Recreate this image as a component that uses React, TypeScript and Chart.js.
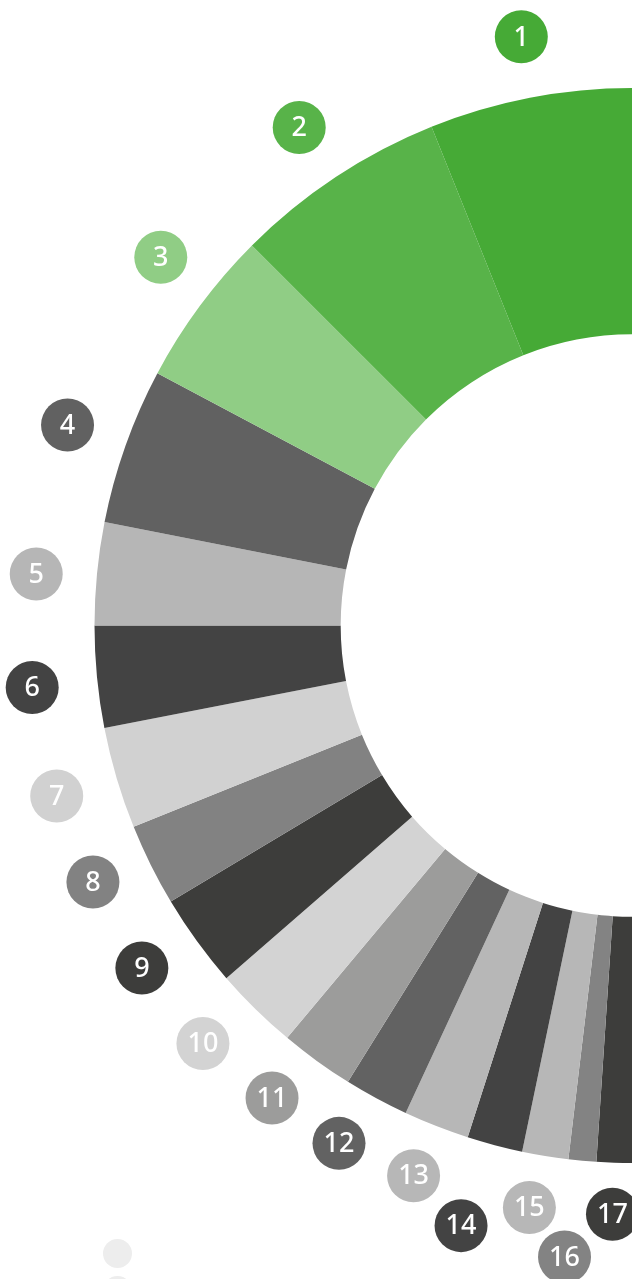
import React, { useEffect, useRef } from "react";
import { Chart, registerables } from "chart.js";

Chart.register(...registerables);

const categories: string[] = ["1", "2", "3", "4", "5", "6", "7", "8", "9", "10", "11", "12", "13", "14", "15", "16", "17"];
const values: number[] = [21.9, 23.1, 17.0, 16.9, 11.1, 11.0, 11.0, 8.9, 10.1, 9.1, 8.0, 7.0, 7.1, 6.0, 5.0, 3.0, 3.8];
const colors: string[] = [
  "#46aa36", "#58b349", "#90cd85", "#616161", "#b6b6b6", "#434343", "#d1d1d1", "#828282",
  "#3d3d3b", "#d3d3d3", "#9c9c9b", "#626262", "#b7b7b7", "#434343", "#b7b7b7", "#838383", "#3d3d3b",
];
// small layout tweaks for badge placement (degrees / pixels)
const labelAngleNudge: number[] = [-0.3, 0.3, -1.5, 0, 0.6, 0.4, 0, -1, -1, -1.3, -1.4, -1.1, -0.3, -1.1, -0.7, -0.8, 0];
const labelRadiusExtra: number[] = [1, 1, 0, 1, 0, 5, 2, -1, 0, 1, -4, -3, -6, 26, -7, 37, -9];

export default function App() {
  const canvasRef = useRef<HTMLCanvasElement | null>(null);

  useEffect(() => {
    if (!canvasRef.current) return;
    const n = categories.length;
    const order = Array.from({ length: n }, (_, i) => n - 1 - i); // draw from bottom clockwise to top
    const badgePlugin = {
      id: "badges",
      afterDatasetsDraw(chart: any) {
        const ctx = chart.ctx;
        const meta = chart.getDatasetMeta(0);
        meta.data.forEach((arc: any, j: number) => {
          const i = order[j];
          const p = arc.getProps(["x", "y", "startAngle", "endAngle", "outerRadius"], true);
          const mid = (p.startAngle + p.endAngle) / 2 - (labelAngleNudge[i] * Math.PI) / 180;
          const r = p.outerRadius + 60.5 + labelRadiusExtra[i];
          const cx = p.x + Math.cos(mid) * r;
          const cy = p.y + Math.sin(mid) * r;
          ctx.save();
          ctx.beginPath();
          ctx.arc(cx, cy, 26.5, 0, Math.PI * 2);
          ctx.fillStyle = colors[i];
          ctx.fill();
          ctx.fillStyle = "#ffffff";
          ctx.font = "500 27px 'Noto Sans', sans-serif";
          ctx.textAlign = "center";
          ctx.textBaseline = "middle";
          ctx.fillText(categories[i], cx, cy + 1);
          ctx.restore();
        });
      },
    };
    const chart = new Chart(canvasRef.current, {
      type: "doughnut",
      data: {
        labels: order.map((i) => categories[i]),
        datasets: [
          {
            data: order.map((i) => values[i]),
            backgroundColor: order.map((i) => colors[i]),
            borderWidth: 0,
          },
        ],
      },
      options: {
        responsive: true,
        maintainAspectRatio: false,
        animation: false,
        rotation: 180,
        circumference: 180,
        cutout: "54.2%",
        layout: { padding: { left: 94.5, right: 0, top: 88, bottom: 116 } },
        plugins: { legend: { display: false }, tooltip: { enabled: false }, title: { display: false } },
      },
      plugins: [badgePlugin],
    });
    return () => chart.destroy();
  }, []);

  return (
    <div style={{ position: "absolute", left: 0, top: 0, width: 636, height: 1279, overflow: "hidden", background: "#fff" }}>
      <div style={{ position: "absolute", left: 0, top: 0, width: 632, height: 1279 }}>
        <canvas ref={canvasRef} />
      </div>
      <div style={{ position: "absolute", left: 103, top: 1239, width: 29, height: 29, borderRadius: "50%", background: "#ededed" }} />
      <div style={{ position: "absolute", left: 103, top: 1276, width: 29, height: 29, borderRadius: "50%", background: "#ededed" }} />
    </div>
  );
}
